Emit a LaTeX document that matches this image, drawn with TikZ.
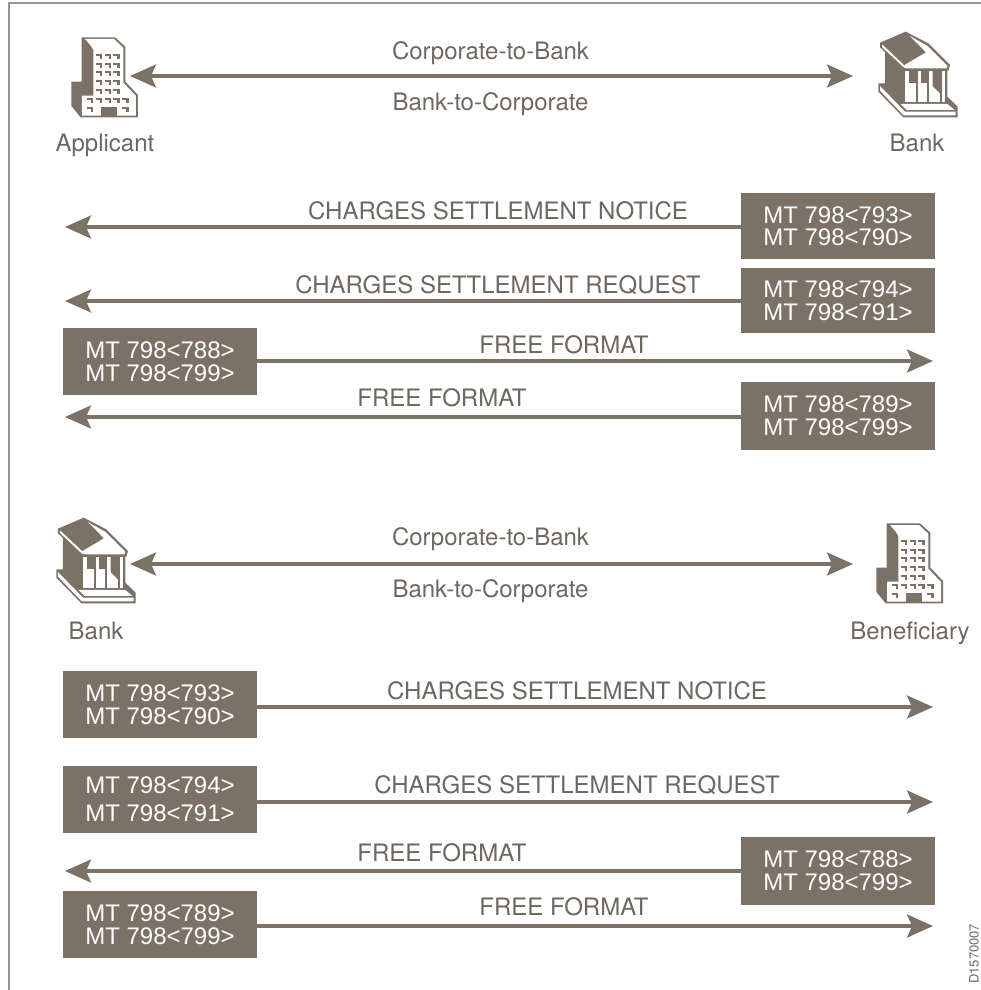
\documentclass[tikz,border=0pt]{standalone}
\usepackage{fontspec}
\setmainfont{TeX Gyre Heros}
\newfontfamily\boxfont{Liberation Sans}
\usetikzlibrary{arrows.meta}
\definecolor{boxc}{HTML}{7B7166}
\definecolor{txtc}{HTML}{6E675F}
\definecolor{framec}{HTML}{9A948C}
\tikzset{
  x=1pt,y=-1pt,
  msgbox/.style={fill=boxc,text=white,minimum width=194pt,align=center,inner sep=0pt,font=\boxfont\fontsize{24}{22.7}\selectfont},
  lbl/.style={text=txtc,inner sep=0pt,font=\fontsize{24}{28}\selectfont},
  flow/.style={draw=boxc,line width=3.2pt,-{Stealth[length=26pt,width=23pt,inset=5pt]}},
  dflow/.style={draw=boxc,line width=3.2pt,{Stealth[length=26pt,width=23pt,inset=5pt]}-{Stealth[length=26pt,width=23pt,inset=5pt]}},
  pics/tower/.style={code={
    \begin{scope}[x=0.3333pt,y=-0.3333pt]
    \fill[boxc] (125,112)--(225,112)--(256,140)--(256,245)--(294,285)--(294,352)--(122,352)--(94,318)--(94,245)--(125,245)--cycle;
    \fill[white] (135,117)--(222,117)--(250,143)--(250,248)--(288,288)--(288,347)--(126,347)--(126,287)--(160,287)--(160,150)--(153,138)--cycle;
    \fill[boxc] (183,322) rectangle (232,352);
    \foreach \cx in {167,195,220}{\foreach \cy in {162,188,213,240,267}{
      \fill[boxc] (\cx,\cy) rectangle ++(19,7);
      \fill[boxc] (\cx+12,\cy) rectangle ++(7,15);
    }}
    \foreach \cx in {140,167,195,220,247}{
      \fill[boxc] (\cx,293) rectangle ++(19,7);
      \fill[boxc] (\cx+12,293) rectangle ++(7,15);
    }
    \foreach \cx in {140,247}{
      \fill[boxc] (\cx,320) rectangle ++(19,7);
      \fill[boxc] (\cx+12,320) rectangle ++(7,15);
    }
    \end{scope}
  }},
  pics/temple/.style={code={
    \begin{scope}[x=0.3333pt,y=-0.3333pt]
    \fill[boxc] (75,150)--(75,250)--(55,250)--(55,275)--(130,352)--(293,352)--(293,320)--(262,290)--(262,205)--(135,205)--cycle;
    \fill[boxc] (60,128)--(137,95)--(205,130)--(270,195)--(265,212)--(135,212)--(60,142)--cycle;
    \fill[white] (150,108)--(203,138)--(262,197)--(260,205)--(138,205)--(132,196)--(198,157)--cycle;
    \fill[white] (66,133)--(132,195)--(138,205)--(132,203)--(66,141)--cycle;
    % colonnade
    \fill[white] (135,212) rectangle (255,305);
    \fill[boxc] (148,212) rectangle (168,250);
    \fill[boxc] (182,212) rectangle (202,250);
    \fill[boxc] (218,212)--(240,212)--(240,280)--(218,258)--cycle;
    \fill[boxc] (168,212) rectangle (174,305);
    \fill[boxc] (202,212) rectangle (208,305);
    \fill[boxc] (240,212) rectangle (245,305);
    \fill[boxc] (255,212) rectangle (262,305);
    \fill[boxc] (135,305) rectangle (265,312);
    % steps
    \fill[white] (122,312)--(262,312)--(284,330)--(140,330)--cycle;
    \fill[white] (60,258)--(135,335)--(287,335)--(287,346)--(131,346)--(60,272)--cycle;
    \end{scope}
  }},
}
\begin{document}
\begin{tikzpicture}
\useasboundingbox (0,0) rectangle (981,990);
\draw[framec,line width=2pt] (9,990)--(9,3)--(981,3);

% icons
\pic at (40,0) {tower};
\pic at (860,0) {temple};
\pic at (38,486) {temple};
\pic at (845,486) {tower};

% free ends
\coordinate (a1) at (130,76);
\coordinate (a2) at (853,76);
\coordinate (b1) at (130,564);
\coordinate (b2) at (853,564);
\coordinate (e1) at (65,227);
\coordinate (e2) at (65,301);
\coordinate (e3) at (933,361);
\coordinate (e4) at (65,417);
\coordinate (e5) at (933,707);
\coordinate (e6) at (933,802);
\coordinate (e7) at (65,871);
\coordinate (e8) at (933,926);

% boxes
\node[msgbox,minimum height=66pt] (m1) at (838,226) {\raisebox{-0.7pt}{MT 798<793>}\\MT 798<790>};
\node[msgbox,minimum height=65pt] (m2) at (838,300.5) {MT 798<794>\\MT 798<791>};
\node[msgbox,minimum height=67pt] (m3) at (160,361.5) {MT 798<788>\\MT 798<799>};
\node[msgbox,minimum height=68pt] (m4) at (838,416) {MT 798<789>\\MT 798<799>};
\node[msgbox,minimum height=67pt] (m5) at (160,704.5) {MT 798<793>\\MT 798<790>};
\node[msgbox,minimum height=67pt] (m6) at (160,799.5) {MT 798<794>\\[5pt]MT 798<791>};
\node[msgbox,minimum height=68pt] (m7) at (838,871) {MT 798<788>\\MT 798<799>};
\node[msgbox,minimum height=67pt] (m8) at (160,924.5) {MT 798<789>\\MT 798<799>};

% connectors
\draw[dflow] (a1)--(a2);
\draw[dflow] (b1)--(b2);
\draw[flow] (m1.west |- e1)--(e1);
\draw[flow] (m2.west |- e2)--(e2);
\draw[flow] (m3.east |- e3)--(e3);
\draw[flow] (m4.west |- e4)--(e4);
\draw[flow] (m5.east |- e5)--(e5);
\draw[flow] (m6.east |- e6)--(e6);
\draw[flow] (m7.west |- e7)--(e7);
\draw[flow] (m8.east |- e8)--(e8);

% labels
\node[lbl] (t1) at (490.5,53) {Corporate-to-Bank};
\node[lbl] (t2) at (490.5,104) {Bank-to-Corporate};
\node[lbl] (t3) at (105,145) {Applicant};
\node[lbl] (t4) at (917,143) {Bank};
\node[lbl] (t5) at (490.5,539) {Corporate-to-Bank};
\node[lbl] (t6) at (490.5,591) {Bank-to-Corporate};
\node[lbl] (t7) at (96,631) {Bank};
\node[lbl] (t8) at (910,633) {Beneficiary};
\node[lbl] (l1) at (498,210.5) {CHARGES SETTLEMENT NOTICE};
\node[lbl] (l2) at (498,285.5) {CHARGES SETTLEMENT REQUEST};
\node[lbl] (l3) at (564,345) {FREE FORMAT};
\node[lbl] (l4) at (442,398) {FREE FORMAT};
\node[lbl] (l5) at (577,690.5) {CHARGES SETTLEMENT NOTICE};
\node[lbl] (l6) at (577,785.5) {CHARGES SETTLEMENT REQUEST};
\node[lbl] (l7) at (442,853) {FREE FORMAT};
\node[lbl] (l8) at (564,907) {FREE FORMAT};
\node[text=txtc,inner sep=0pt,rotate=90,anchor=west,font=\fontsize{13}{15}\selectfont] (code) at (974,984) {D1570007};
\end{tikzpicture}
\end{document}
